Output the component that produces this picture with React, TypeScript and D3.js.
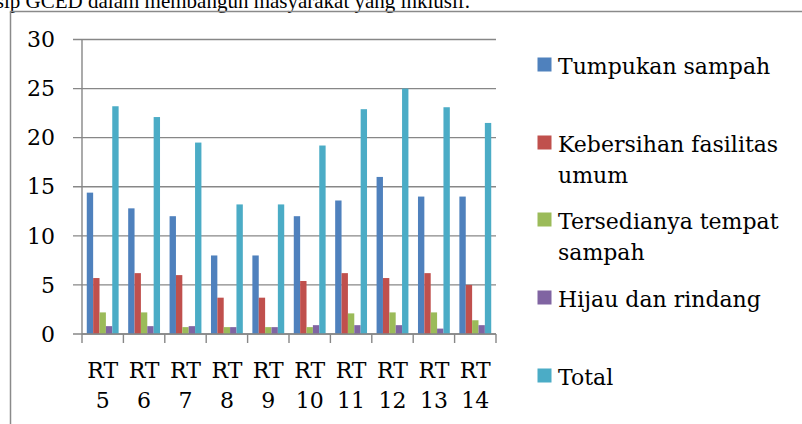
import React from 'react';
import * as d3 from 'd3';

const categories = ['5', '6', '7', '8', '9', '10', '11', '12', '13', '14'];
const tumpukan = [14.4, 12.8, 12, 8, 8, 12, 13.6, 16, 14, 14];
const kebersihan = [5.7, 6.2, 6, 3.7, 3.7, 5.4, 6.2, 5.7, 6.2, 5];
const tersedia = [2.2, 2.2, 0.7, 0.7, 0.7, 0.7, 2.1, 2.2, 2.2, 1.4];
const hijau = [0.8, 0.8, 0.8, 0.7, 0.7, 0.9, 0.9, 0.9, 0.55, 0.9];
const total = [23.2, 22.1, 19.5, 13.2, 13.2, 19.2, 22.9, 25, 23.1, 21.5];
const yTicks = [0, 5, 10, 15, 20, 25, 30];

const series = [
  { key: 'tumpukan', label: ['Tumpukan sampah'], values: tumpukan, color: '#4F81BD' },
  { key: 'kebersihan', label: ['Kebersihan fasilitas', 'umum'], values: kebersihan, color: '#C0504D' },
  { key: 'tersedia', label: ['Tersedianya tempat', 'sampah'], values: tersedia, color: '#9BBB59' },
  { key: 'hijau', label: ['Hijau dan rindang'], values: hijau, color: '#8064A2' },
  { key: 'total', label: ['Total'], values: total, color: '#4BACC6' },
];

const legendY = [74, 152, 229, 307, 385];

const W = 802;
const H = 424;
const font = '"DejaVu Serif", serif';
const grid = '#878787';

export default function App() {
  const left = 82;
  const right = 496;
  const top = 39.5;
  const bottom = 334;

  const x0 = d3.scaleBand<string>().domain(categories).range([left, right]).padding(0);
  const x1 = d3
    .scaleBand<string>()
    .domain(series.map(s => s.key))
    .range([0, x0.bandwidth()])
    .paddingInner(0)
    .paddingOuter(0.75);
  const y = d3.scaleLinear().domain([0, 30]).range([bottom, top]);

  return (
    <svg
      width={W}
      height={H}
      style={{ position: 'absolute', left: 0, top: 0, background: '#fff' }}
      fontFamily={font}
    >
      <text x={470} y={7.5} fontSize={21} textAnchor="end" fontFamily='"Liberation Serif", serif' fill="#000">
        prinsip GCED dalam membangun masyarakat yang inklusif.
      </text>

      {/* outer frame */}
      <path d={`M10.5,${H} V11.5 H${W}`} fill="none" stroke="#8a8a8a" strokeWidth={1.5} />

      {/* gridlines and y ticks */}
      {yTicks.map(t => (
        <g key={t}>
          <line x1={73} x2={right} y1={y(t)} y2={y(t)} stroke={grid} strokeWidth={1.4} />
          <text x={55} y={y(t)} dy="0.35em" fontSize={22} textAnchor="end" fill="#000">
            {t}
          </text>
        </g>
      ))}

      {/* bars */}
      {series.map(s =>
        categories.map((c, i) => (
          <rect
            key={s.key + c}
            x={(x0(c) as number) + (x1(s.key) as number)}
            y={y(s.values[i])}
            width={x1.bandwidth()}
            height={bottom - y(s.values[i])}
            fill={s.color}
          />
        ))
      )}

      {/* axes */}
      <line x1={left} x2={left} y1={top} y2={bottom} stroke={grid} strokeWidth={1.4} />
      <line x1={left} x2={right} y1={bottom} y2={bottom} stroke={grid} strokeWidth={1.4} />
      {d3.range(categories.length + 1).map(i => {
        const tx = left + i * x0.step();
        return <line key={i} x1={tx} x2={tx} y1={bottom} y2={343} stroke={grid} strokeWidth={1.4} />;
      })}

      {/* x labels */}
      {categories.map(c => {
        const cx = (x0(c) as number) + x0.bandwidth() / 2;
        return (
          <text key={c} x={cx} fontSize={22} textAnchor="middle" fill="#000">
            <tspan x={cx} y={378}>RT</tspan>
            <tspan x={cx} y={408}>{c}</tspan>
          </text>
        );
      })}

      {/* legend */}
      {series.map((s, i) => (
        <g key={s.key}>
          <rect x={537.5} y={legendY[i] - 16.5} width={14} height={14} fill={s.color} />
          <text x={558} fontSize={22} fill="#000">
            {s.label.map((l, j) => (
              <tspan key={j} x={558} y={legendY[i] + j * 31}>
                {l}
              </tspan>
            ))}
          </text>
        </g>
      ))}
    </svg>
  );
}
